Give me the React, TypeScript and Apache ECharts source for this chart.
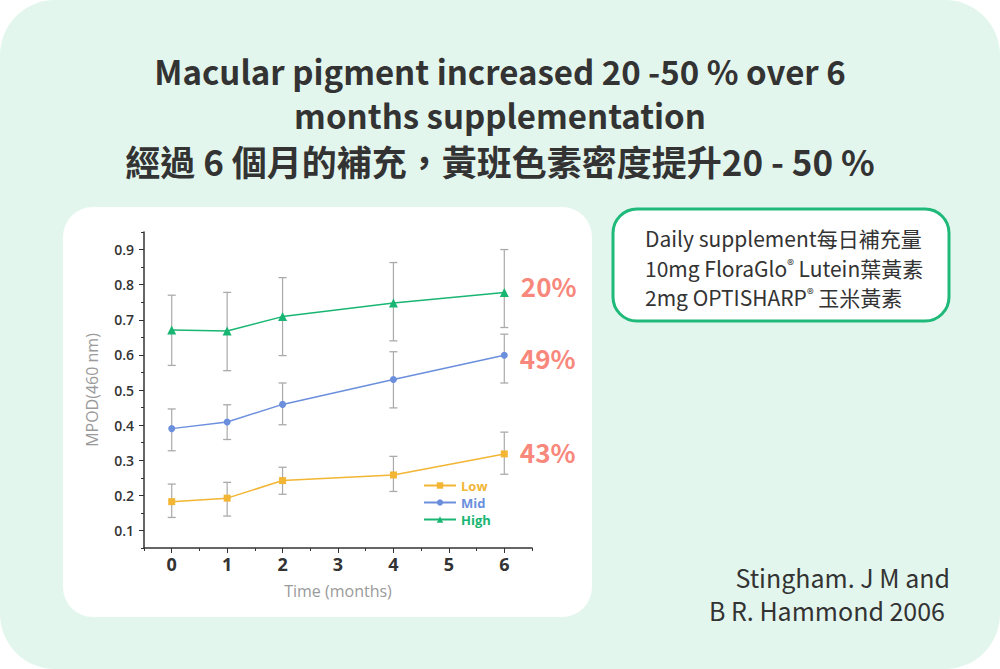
import React, { useEffect, useRef } from "react";
import * as echarts from "echarts";

const months = [0, 1, 2, 4, 6];
const lowMean = [0.182, 0.192, 0.242, 0.258, 0.318];
const lowUpper = [0.232, 0.237, 0.28, 0.311, 0.38];
const lowLower = [0.137, 0.141, 0.203, 0.211, 0.26];
const midMean = [0.39, 0.409, 0.459, 0.53, 0.599];
const midUpper = [0.446, 0.458, 0.52, 0.609, 0.659];
const midLower = [0.327, 0.359, 0.401, 0.449, 0.52];
const highMean = [0.671, 0.668, 0.709, 0.748, 0.778];
const highUpper = [0.77, 0.778, 0.82, 0.863, 0.9];
const highLower = [0.57, 0.555, 0.598, 0.64, 0.678];
const seriesNames = ["Low", "Mid", "High"];
const increaseLabels = ["43%", "49%", "20%"];
const xTickLabels = [0, 1, 2, 3, 4, 5, 6];
const yTickLabels = [0.1, 0.2, 0.3, 0.4, 0.5, 0.6, 0.7, 0.8, 0.9];
const xMinorTicks = [-0.5, 0.5, 1.5, 2.5, 3.5, 4.5, 5.5, 6.5];
const yMinorTicks = [0.05, 0.15, 0.25, 0.35, 0.45, 0.55, 0.65, 0.75, 0.85, 0.95];
const titleLines = [
  "Macular pigment increased 20 -50 % over 6",
  "months supplementation",
  "經過 6 個月的補充，黃班色素密度提升20 - 50 %",
];
const infoLines = [
  "Daily supplement每日補充量",
  "10mg FloraGlo{sup|®} Lutein葉黃素",
  "2mg OPTISHARP{sup|®} 玉米黃素",
];
const citationLines = ["Stingham. J M and", "B R. Hammond 2006"];

const COLORS = ["#f2b534", "#6b8fdd", "#18b672"];
const PCT = "#f8877c";
const ERR = "#aaaaaa";
const CJK = '"Noto Sans CJK TC", "Noto Sans", sans-serif';
const AXF = '"Open Sans", "Noto Sans", sans-serif';

export default function App() {
  const ref = useRef<HTMLDivElement>(null);
  useEffect(() => {
    if (!ref.current) return;
    const chart = echarts.init(ref.current, null, { renderer: "svg" });
    const means = [lowMean, midMean, highMean];
    const uppers = [lowUpper, midUpper, highUpper];
    const lowers = [lowLower, midLower, highLower];
    const symbols = ["rect", "circle", "triangle"];
    const labelOffsets = [[0, -2], [0, 2], [0, -7]];

    const errSeries: any[] = means.map((m, si) => {
      const data: any[] = [];
      months.forEach((x, i) => {
        data.push([x, lowers[si][i]]);
        data.push([x, uppers[si][i]]);
        data.push("-");
      });
      return {
        type: "line",
        name: seriesNames[si] + " error",
        xAxisIndex: 0,
        yAxisIndex: 0,
        z: 6,
        silent: true,
        connectNulls: false,
        symbol: "rect",
        symbolSize: [8, 1.3],
        showSymbol: true,
        clip: false,
        itemStyle: { color: ERR },
        lineStyle: { color: ERR, width: 1.2 },
        data,
      };
    });

    const lineSeries: any[] = means.map((m, si) => ({
      type: "line",
      name: seriesNames[si],
      xAxisIndex: 0,
      yAxisIndex: 0,
      z: 7,
      symbol: symbols[si],
      symbolSize: si === 2 ? 9 : 7,
      lineStyle: { color: COLORS[si], width: 1.5 },
      itemStyle: { color: COLORS[si] },
      data: months.map((x, i) => {
        const d: any = { value: [x, m[i]] };
        if (i === months.length - 1) {
          d.label = {
            show: true,
            position: "right",
            distance: 12,
            offset: labelOffsets[si],
            formatter: increaseLabels[si],
            color: PCT,
            fontSize: 26,
            fontWeight: "bold",
            fontFamily: CJK,
          };
        }
        return d;
      }),
    }));

    const graphics: any[] = [
      { type: "rect", z: -10, shape: { x: 0, y: 0, width: 1000, height: 669, r: 55 }, style: { fill: "#e3f6ee" } },
      { type: "rect", z: -9, shape: { x: 63, y: 207, width: 529, height: 410, r: 30 }, style: { fill: "#ffffff" } },
      {
        type: "rect",
        z: -9,
        shape: { x: 613, y: 209, width: 336, height: 112, r: 24 },
        style: { fill: "#ffffff", stroke: "#1fba7a", lineWidth: 3 },
      },
    ];
    const titleY = [71, 115, 160];
    const titleSize = [33, 33, 35];
    titleLines.forEach((t, i) => {
      graphics.push({
        type: "text",
        x: 500,
        y: titleY[i],
        style: {
          text: t,
          fill: "#333333",
          font: `bold ${titleSize[i]}px ${CJK}`,
          textAlign: "center",
          textVerticalAlign: "middle",
        },
      });
    });
    const infoY = [238, 268, 297];
    infoLines.forEach((t, i) => {
      graphics.push({
        type: "text",
        x: 645,
        y: infoY[i],
        style: {
          text: t,
          fill: "#333333",
          fontSize: 21,
          fontFamily: CJK,
          textAlign: "left",
          textVerticalAlign: "middle",
          rich: {
            sup: { fontSize: 14, fill: "#333333", fontFamily: CJK, verticalAlign: "top", padding: [0, 0, 8, 0] },
          },
        },
      });
    });
    const citeY = [577, 610];
    const citeX = [950, 945];
    citationLines.forEach((t, i) => {
      graphics.push({
        type: "text",
        x: citeX[i],
        y: citeY[i],
        style: {
          text: t,
          fill: "#333333",
          fontSize: 25,
          fontFamily: CJK,
          textAlign: "right",
          textVerticalAlign: "middle",
        },
      });
    });

    chart.setOption({
      animation: false,
      graphic: graphics,
      grid: { left: 144, top: 232, width: 388, height: 316, containLabel: false },
      legend: {
        left: 418,
        top: 474,
        orient: "vertical",
        itemWidth: 32,
        itemHeight: 8,
        itemGap: 4,
        data: seriesNames.map((n, i) => ({
          name: n,
          textStyle: { color: COLORS[i], fontSize: 13, fontWeight: "bold", fontFamily: AXF },
        })),
      },
      xAxis: [
        {
          type: "value",
          min: -0.5,
          max: 6.5,
          name: "Time (months)",
          nameLocation: "middle",
          nameGap: 35,
          nameTextStyle: { color: "#9a9a9a", fontSize: 16, fontFamily: AXF },
          axisLine: { show: true, onZero: false, lineStyle: { color: "#333333", width: 1.5 } },
          axisTick: { show: true, length: 5, customValues: xTickLabels, lineStyle: { color: "#333333" } },
          axisLabel: {
            customValues: xTickLabels,
            color: "#333333",
            fontSize: 18,
            fontWeight: "bold",
            fontFamily: AXF,
            margin: 7,
          },
          splitLine: { show: false },
        },
        {
          type: "value",
          min: -0.5,
          max: 6.5,
          position: "bottom",
          axisLine: { show: false, onZero: false },
          axisTick: { show: true, length: 3, customValues: xMinorTicks, lineStyle: { color: "#333333" } },
          axisLabel: { show: false },
          splitLine: { show: false },
        },
      ],
      yAxis: [
        {
          type: "value",
          min: 0.05,
          max: 0.95,
          name: "MPOD(460 nm)",
          nameLocation: "middle",
          nameGap: 44,
          nameTextStyle: { color: "#9a9a9a", fontSize: 16, fontFamily: AXF },
          axisLine: { show: true, onZero: false, lineStyle: { color: "#333333", width: 1.5 } },
          axisTick: { show: true, length: 5, customValues: yTickLabels, lineStyle: { color: "#333333" } },
          axisLabel: {
            customValues: yTickLabels,
            formatter: (v: number) => v.toFixed(1),
            color: "#333333",
            fontSize: 14,
            fontWeight: 600,
            fontFamily: AXF,
            margin: 10,
          },
          splitLine: { show: false },
        },
        {
          type: "value",
          min: 0.05,
          max: 0.95,
          position: "left",
          axisLine: { show: false, onZero: false },
          axisTick: { show: true, length: 3, customValues: yMinorTicks, lineStyle: { color: "#333333" } },
          axisLabel: { show: false },
          splitLine: { show: false },
        },
      ],
      series: [...errSeries, ...lineSeries],
    });
    return () => chart.dispose();
  }, []);
  return (
    <div
      ref={ref}
      style={{ position: "fixed", left: 0, top: 0, width: 1000, height: 669, background: "#ffffff" }}
    />
  );
}
